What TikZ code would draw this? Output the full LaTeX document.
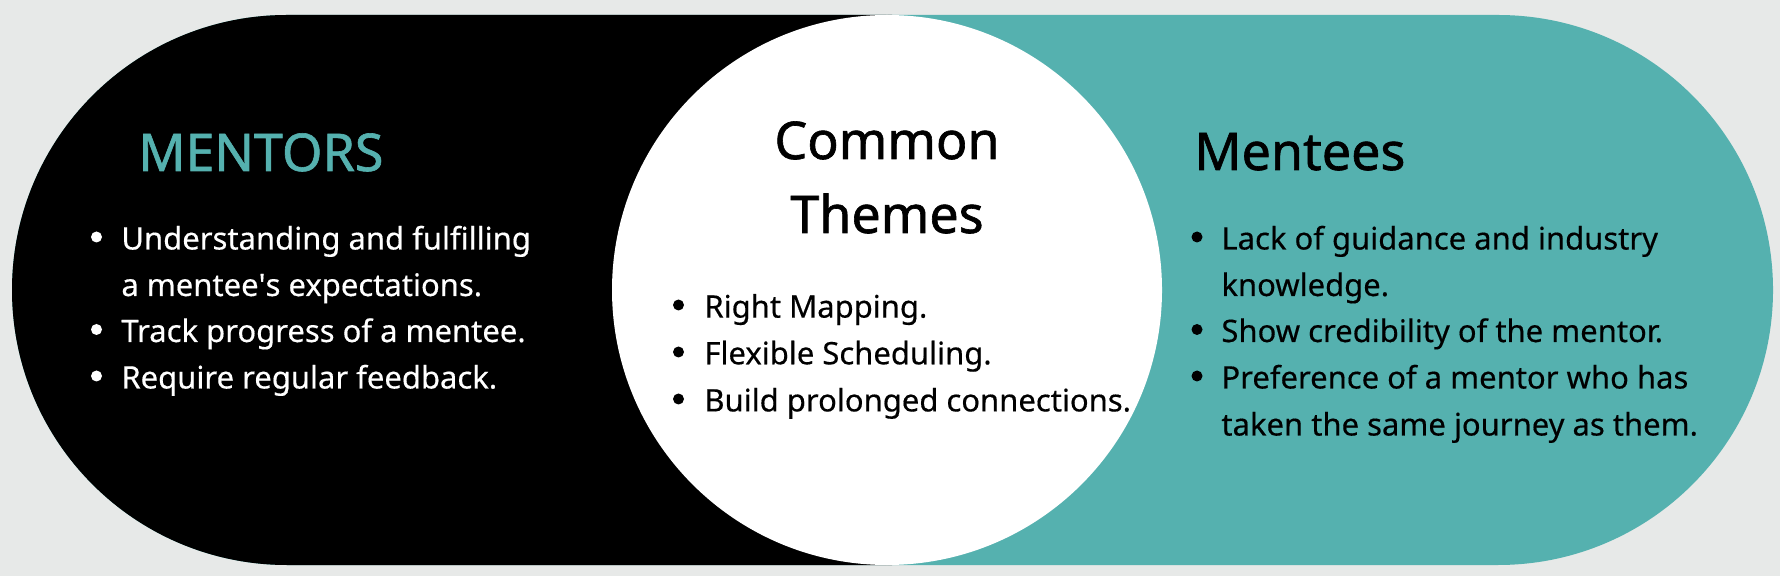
\documentclass[tikz,border=0pt]{standalone}
\usepackage{fontspec}
\setmainfont{Noto Sans}[FakeBold=0.4]
\newfontfamily\headfont{Noto Sans}[FakeBold=1.2]
\newfontfamily\itemfont{Noto Sans}[FakeBold=0.4]
\definecolor{bgc}{HTML}{E7E9E8}
\definecolor{tealc}{HTML}{55B1AF}
\begin{document}
\begin{tikzpicture}[x=0.5pt,y=-0.5pt,
  head/.style={inner sep=0pt, anchor=base west, font=\headfont\fontsize{26}{30}\selectfont},
  item/.style={inner sep=0pt, anchor=base west, font=\itemfont\fontsize{15.5}{20}\selectfont},
  dot/.style={circle, inner sep=0pt, minimum size=5.5pt}]
\useasboundingbox (0,0) rectangle (1780,576);
\fill[bgc] (0,0) rectangle (1780,576);
% pill
\fill[tealc, rounded corners=137.5pt] (12,15) rectangle (1773,565);
\begin{scope}
  \clip (0,0) rectangle (892,576);
  \fill[black, rounded corners=137.5pt] (12,15) rectangle (1773,565);
\end{scope}
% circle
\fill[white] (887,290) circle [radius=137.5pt];
% headings
\node[head, text=tealc] (mentors) at (138,171) {MENTORS};
\node[head, text=black] (mentees) at (1194,170) {Mentees};
\node[head, anchor=base, text=black] (common) at (887,159) {Common};
\node[head, anchor=base, text=black] (themes) at (887,233) {Themes};
% mentors items
\node[item, text=white] (m1) at (121,249.5) {Understanding and fulfilling};
\node[item, text=white] (m1b) at (121,296) {a mentee\textquotesingle s expectations.};
\node[item, text=white] (m2) at (121,342) {Track progress of a mentee.};
\node[item, text=white] (m3) at (121,388.5) {Require regular feedback.};
\node[dot, fill=white] (dm1) at (96.5,237) {};
\node[dot, fill=white] (dm2) at (96.5,329.5) {};
\node[dot, fill=white] (dm3) at (96.5,376) {};
% common items
\node[item, text=black] (c1) at (704,317.6) {Right Mapping.};
\node[item, text=black] (c2) at (704,364.3) {Flexible Scheduling.};
\node[item, text=black] (c3) at (704,411.4) {Build prolonged connections.};
\node[dot, fill=black] (dc1) at (678.5,305) {};
\node[dot, fill=black] (dc2) at (678.5,352) {};
\node[dot, fill=black] (dc3) at (678.5,399) {};
% mentees items
\node[item, text=black] (e1) at (1221,249.5) {Lack of guidance and industry};
\node[item, text=black] (e1b) at (1221,296) {knowledge.};
\node[item, text=black] (e2) at (1221,342) {Show credibility of the mentor.};
\node[item, text=black] (e3) at (1221,388.5) {Preference of a mentor who has};
\node[item, text=black] (e3b) at (1221,435.5) {taken the same journey as them.};
\node[dot, fill=black] (de1) at (1197,237) {};
\node[dot, fill=black] (de2) at (1197,329.5) {};
\node[dot, fill=black] (de3) at (1197,376) {};
\end{tikzpicture}
\end{document}
